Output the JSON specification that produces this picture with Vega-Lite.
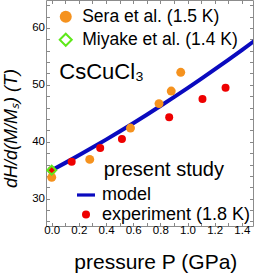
{
  "$schema": "https://vega.github.io/schema/vega-lite/v6.json",
  "width": 207,
  "height": 226,
  "autosize": {"type": "none"},
  "padding": {"left": 46, "top": 0, "right": 9, "bottom": 48},
  "config": {
    "font": "Liberation Sans",
    "view": {"stroke": "#8c8c8c", "strokeWidth": 1}
  },
  "layer": [
    {
      "data": {"values": [
        {"P": 0, "H": 35.0}, {"P": 0.1, "H": 36.29}, {"P": 0.2, "H": 37.62}, {"P": 0.3, "H": 38.98},
        {"P": 0.4, "H": 40.37}, {"P": 0.5, "H": 41.8}, {"P": 0.6, "H": 43.26}, {"P": 0.7, "H": 44.75},
        {"P": 0.8, "H": 46.27}, {"P": 0.9, "H": 47.83}, {"P": 1.0, "H": 49.42}, {"P": 1.1, "H": 51.04},
        {"P": 1.2, "H": 52.7}, {"P": 1.3, "H": 54.39}, {"P": 1.4, "H": 56.11}, {"P": 1.5, "H": 57.86}
      ]},
      "mark": {"type": "line", "color": "#0a0abf", "strokeWidth": 4, "clip": true},
      "encoding": {
        "x": {"field": "P", "type": "quantitative",
          "scale": {"domain": [-0.042, 1.482], "nice": false, "zero": false},
          "axis": {"orient": "bottom", "values": [0, 0.1, 0.2, 0.3, 0.4, 0.5, 0.6, 0.7, 0.8, 0.9, 1.0, 1.1, 1.2, 1.3, 1.4],
            "labelExpr": "round(datum.value*10) % 2 == 0 ? format(datum.value, '.1f') : ''",
            "title": "pressure P (GPa)", "titleFontSize": 21, "titleFontWeight": "normal", "titleColor": "black",
            "titleX": 109.3, "titleY": 36, "titleAlign": "center", "titleBaseline": "middle",
            "labelFontSize": 11.5, "labelColor": "black", "labelPadding": 2, "labelOverlap": false, "labelFlush": false,
            "tickSize": -3.5, "tickColor": "#888888", "domain": false, "grid": false}},
        "y": {"field": "H", "type": "quantitative",
          "scale": {"domain": [25.2, 64.9], "nice": false, "zero": false},
          "axis": {"orient": "left", "values": [26, 28, 30, 32, 34, 36, 38, 40, 42, 44, 46, 48, 50, 52, 54, 56, 58, 60, 62, 64],
            "labelExpr": "datum.value % 10 == 0 ? datum.label : ''",
            "title": "dH/d(M/Mₛ)  (T)", "titleFontStyle": "italic", "titleFontSize": 18, "titleFontWeight": "normal", "titleColor": "black",
            "titleX": -35, "titleY": 128, "titleAlign": "center", "titleBaseline": "middle", "titleAngle": -90,
            "labelFontSize": 11.5, "labelColor": "black", "labelPadding": 5, "labelOverlap": false, "labelFlush": false,
            "tickSize": -3.5, "tickColor": "#888888", "domain": false, "grid": false}}
      }
    },
    {
      "data": {"values": [
        {"P": 0.0, "H": 35.0, "ps": "experiment (1.8 K)"},
        {"P": 0.147, "H": 36.5, "ps": "experiment (1.8 K)"},
        {"P": 0.357, "H": 38.9, "ps": "experiment (1.8 K)"},
        {"P": 0.517, "H": 40.5, "ps": "experiment (1.8 K)"},
        {"P": 0.865, "H": 44.3, "ps": "experiment (1.8 K)"},
        {"P": 1.11, "H": 47.5, "ps": "experiment (1.8 K)"},
        {"P": 1.28, "H": 49.5, "ps": "experiment (1.8 K)"}
      ]},
      "mark": {"type": "point", "filled": true, "size": 64, "opacity": 1, "strokeWidth": 0},
      "encoding": {
        "x": {"field": "P", "type": "quantitative", "scale": {"domain": [-0.042, 1.482], "nice": false, "zero": false}, "axis": null},
        "y": {"field": "H", "type": "quantitative", "scale": {"domain": [25.2, 64.9], "nice": false, "zero": false}, "axis": null},
        "color": {"field": "ps", "type": "nominal",
          "scale": {"domain": ["model", "experiment (1.8 K)"], "range": ["#0a0abf", "#ee0000"]},
          "legend": {"title": null, "orient": "none", "legendX": 31, "legendY": 186, "padding": 0,
            "symbolSize": 64, "symbolStrokeWidth": 0, "labelFontSize": 18, "labelColor": "black", "labelOffset": 7,
            "rowPadding": 1.5}},
        "shape": {"field": "ps", "type": "nominal",
          "scale": {"domain": ["model", "experiment (1.8 K)"], "range": ["M-2.25,-0.4H2.25V0.4H-2.25Z", "circle"]},
          "legend": {"title": null, "orient": "none", "legendX": 31, "legendY": 186, "padding": 0,
            "symbolSize": 64, "symbolStrokeWidth": 0, "labelFontSize": 18, "labelColor": "black", "labelOffset": 7,
            "rowPadding": 1.5}}
      }
    },
    {
      "data": {"values": [
        {"P": 0.0, "H": 33.75, "src": "Sera et al. (1.5 K)"},
        {"P": 0.28, "H": 36.9, "src": "Sera et al. (1.5 K)"},
        {"P": 0.58, "H": 42.4, "src": "Sera et al. (1.5 K)"},
        {"P": 0.79, "H": 46.7, "src": "Sera et al. (1.5 K)"},
        {"P": 0.88, "H": 48.9, "src": "Sera et al. (1.5 K)"},
        {"P": 0.95, "H": 52.2, "src": "Sera et al. (1.5 K)"},
        {"P": 0.0, "H": 35.0, "src": "Miyake et al. (1.4 K)"}
      ]},
      "mark": {"type": "point", "size": 80, "opacity": 1, "strokeWidth": 2},
      "encoding": {
        "x": {"field": "P", "type": "quantitative", "scale": {"domain": [-0.042, 1.482], "nice": false, "zero": false},
          "axis": {"orient": "top", "values": [0, 0.1, 0.2, 0.3, 0.4, 0.5, 0.6, 0.7, 0.8, 0.9, 1.0, 1.1, 1.2, 1.3, 1.4],
            "labels": false, "title": null, "tickSize": -3.5, "tickColor": "#888888", "domain": false, "grid": false}},
        "y": {"field": "H", "type": "quantitative", "scale": {"domain": [25.2, 64.9], "nice": false, "zero": false},
          "axis": {"orient": "right", "values": [26, 28, 30, 32, 34, 36, 38, 40, 42, 44, 46, 48, 50, 52, 54, 56, 58, 60, 62, 64],
            "labels": false, "title": null, "tickSize": -3.5, "tickColor": "#888888", "domain": false, "grid": false}},
        "fill": {"field": "src", "type": "nominal",
          "scale": {"domain": ["Sera et al. (1.5 K)", "Miyake et al. (1.4 K)"], "range": ["#f5921e", "transparent"]},
          "legend": {"title": null, "orient": "none", "legendX": 11, "legendY": 8, "padding": 0,
            "symbolSize": 144, "symbolStrokeWidth": 2, "labelFontSize": 17.5, "labelColor": "black", "labelOffset": 7.7, "rowPadding": 2}},
        "stroke": {"field": "src", "type": "nominal",
          "scale": {"domain": ["Sera et al. (1.5 K)", "Miyake et al. (1.4 K)"], "range": ["transparent", "#5ee81a"]},
          "legend": {"title": null, "orient": "none", "legendX": 11, "legendY": 8, "padding": 0,
            "symbolSize": 144, "symbolStrokeWidth": 2, "labelFontSize": 17.5, "labelColor": "black", "labelOffset": 7.7, "rowPadding": 2}},
        "shape": {"field": "src", "type": "nominal",
          "scale": {"domain": ["Sera et al. (1.5 K)", "Miyake et al. (1.4 K)"], "range": ["circle", "diamond"]},
          "legend": {"title": null, "orient": "none", "legendX": 11, "legendY": 8, "padding": 0,
            "symbolSize": 144, "symbolStrokeWidth": 2, "labelFontSize": 17.5, "labelColor": "black", "labelOffset": 7.7, "rowPadding": 2}}
      }
    },
    {
      "data": {"values": [{"label": "CsCuCl₃", "P": 0.368, "H": 52.3}, {"label": "present study", "P": 0.826, "H": 35.03}]},
      "mark": {"type": "text", "align": "center", "baseline": "middle", "color": "black"},
      "encoding": {
        "x": {"field": "P", "type": "quantitative", "scale": {"domain": [-0.042, 1.482], "nice": false, "zero": false}, "axis": null},
        "y": {"field": "H", "type": "quantitative", "scale": {"domain": [25.2, 64.9], "nice": false, "zero": false}, "axis": null},
        "size": {"field": "label", "type": "nominal", "scale": {"type": "ordinal", "domain": ["CsCuCl₃", "present study"], "range": [22, 20]}, "legend": null},
        "text": {"field": "label", "type": "nominal"}
      }
    }
  ],
  "resolve": {
    "scale": {"shape": "independent", "color": "independent", "fill": "independent", "stroke": "independent"},
    "axis": {"x": "independent", "y": "independent"}
  }
}
